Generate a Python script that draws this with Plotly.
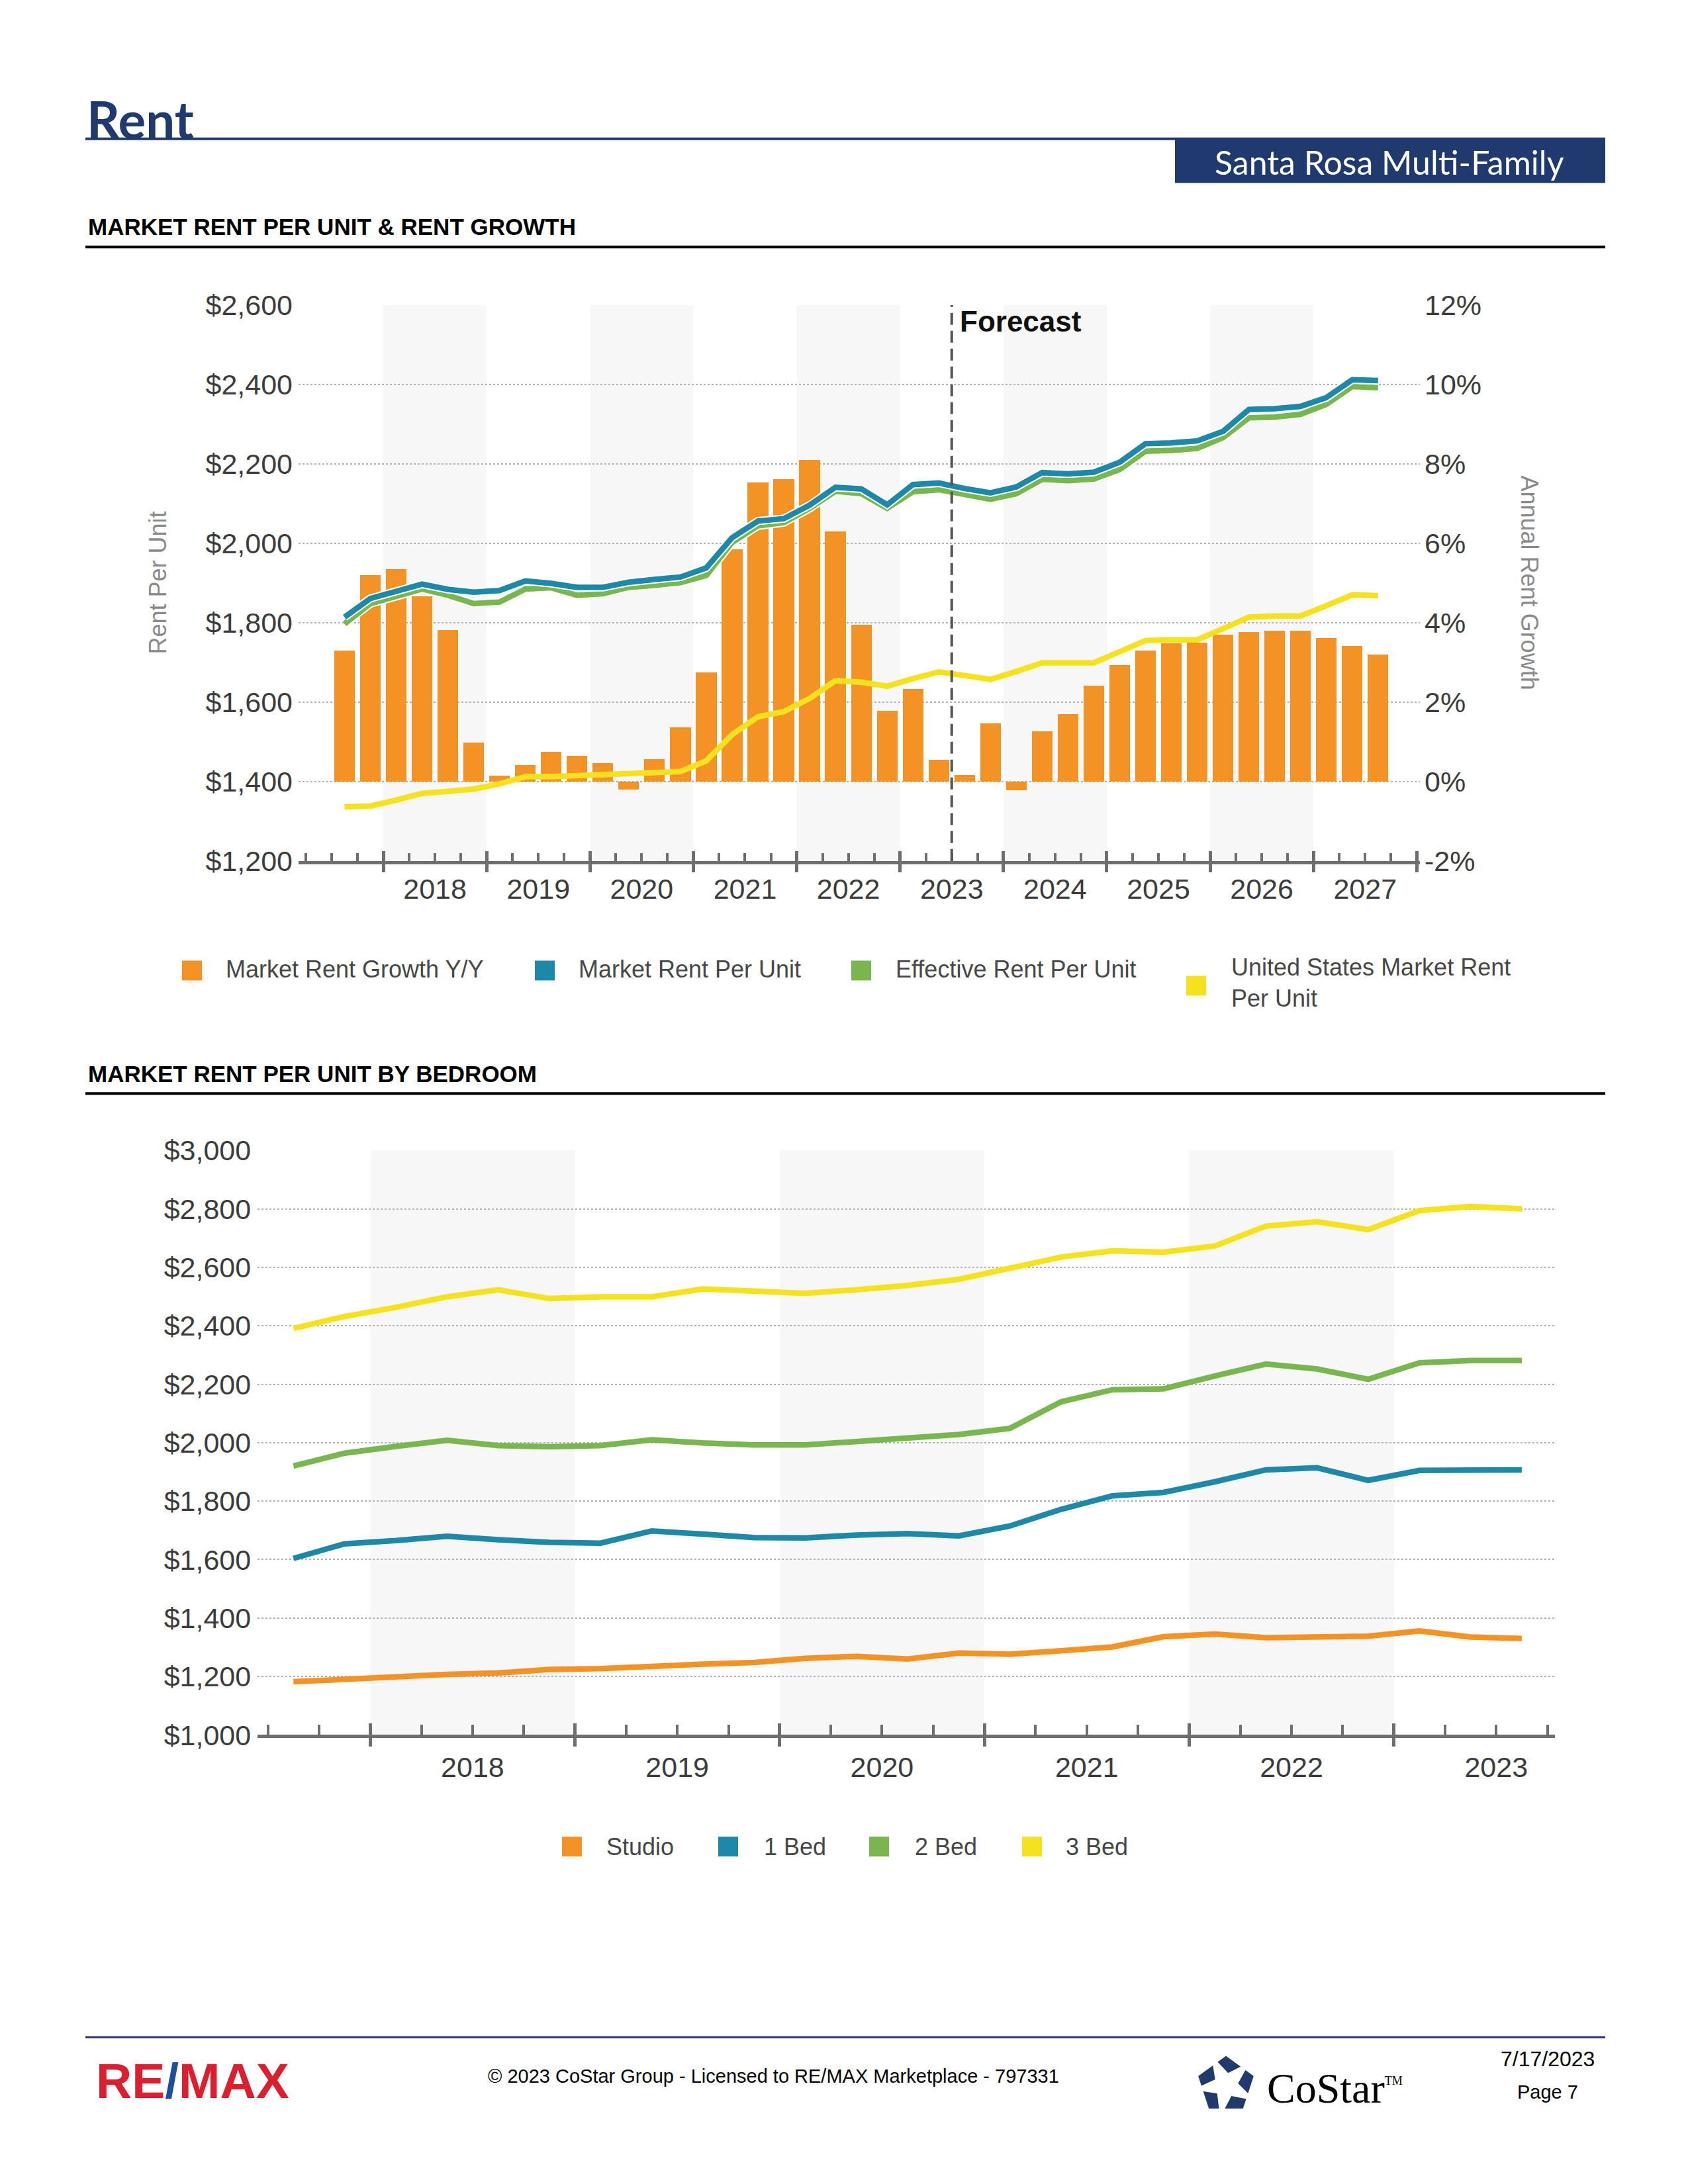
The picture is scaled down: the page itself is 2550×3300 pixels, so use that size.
import math
import plotly.graph_objects as go

W, H = 2550, 3300

# ---------------- data : market rent per unit & rent growth (quarterly) ----------------
TOP_QUARTERS = [f"{y} Q{q}" for y in range(2017, 2028) for q in (1, 2, 3, 4)][2:-1]  # 2017 Q3 .. 2027 Q3
RENT_GROWTH_PCT = [3.30, 5.20, 5.34, 4.66, 3.82, 0.98, 0.14, 0.41, 0.75, 0.65,
                   0.46, -0.21, 0.57, 1.36, 2.74, 5.84, 7.53, 7.62, 8.10, 6.30,
                   3.95, 1.78, 2.33, 0.54, 0.16, 1.46, -0.22, 1.26, 1.69, 2.41,
                   2.93, 3.29, 3.48, 3.50, 3.69, 3.76, 3.79, 3.79, 3.61, 3.41, 3.19]
MARKET_RENT = [1814, 1861, 1879, 1897, 1884, 1877, 1881, 1905, 1899, 1889,
               1889, 1902, 1909, 1915, 1938, 2014, 2056, 2062, 2096, 2141,
               2137, 2097, 2148, 2152, 2138, 2127, 2142, 2178, 2175, 2179,
               2204, 2251, 2253, 2258, 2282, 2337, 2339, 2345, 2367, 2412, 2410]
EFFECTIVE_RENT = [1797, 1848, 1866, 1885, 1869, 1848, 1852, 1885, 1888, 1869,
                  1873, 1889, 1894, 1901, 1919, 2002, 2044, 2052, 2088, 2131,
                  2125, 2088, 2130, 2135, 2123, 2111, 2125, 2161, 2158, 2162,
                  2186, 2232, 2234, 2239, 2266, 2316, 2318, 2325, 2350, 2395, 2392]
US_MARKET_RENT = [1336, 1338, 1353, 1370, 1375, 1381, 1394, 1412, 1412, 1414,
                  1419, 1419, 1421, 1425, 1452, 1518, 1563, 1576, 1609, 1654,
                  1650, 1640, 1659, 1676, 1667, 1657, 1677, 1699, 1699, 1699,
                  1727, 1755, 1757, 1757, 1785, 1814, 1817, 1817, 1843, 1870, 1868]
TOP_YEAR_LABELS = ["2018", "2019", "2020", "2021", "2022", "2023", "2024", "2025", "2026", "2027"]
TOP_SHADED_YEARS = [2018, 2020, 2022, 2024, 2026]
FORECAST_START = "2023 Q3"
RENT_TICKS = [1200, 1400, 1600, 1800, 2000, 2200, 2400, 2600]
RENT_TICK_LABELS = ["$1,200", "$1,400", "$1,600", "$1,800", "$2,000", "$2,200", "$2,400", "$2,600"]
GROWTH_TICKS = [-2, 0, 2, 4, 6, 8, 10, 12]
GROWTH_TICK_LABELS = ["-2%", "0%", "2%", "4%", "6%", "8%", "10%", "12%"]

# ---------------- data : market rent per unit by bedroom (quarterly) ----------------
BED_QUARTERS = [f"{y} Q{q}" for y in range(2017, 2024) for q in (1, 2, 3, 4)][2:-1]  # 2017 Q3 .. 2023 Q3
STUDIO = [1182, 1191, 1200, 1207, 1212, 1224, 1227, 1236, 1242, 1248, 1262, 1269, 1260,
          1280, 1276, 1288, 1301, 1336, 1345, 1333, 1336, 1338, 1356, 1335, 1330]
ONE_BED = [1604, 1654, 1665, 1680, 1668, 1659, 1656, 1698, 1687, 1675, 1674, 1684, 1689,
           1681, 1715, 1772, 1818, 1830, 1866, 1907, 1914, 1871, 1905, 1905, 1907]
TWO_BED = [1920, 1964, 1987, 2008, 1990, 1986, 1990, 2010, 1999, 1992, 1992, 2005, 2017,
           2028, 2049, 2140, 2181, 2184, 2228, 2269, 2252, 2217, 2273, 2281, 2281]
THREE_BED = [2391, 2432, 2463, 2499, 2523, 2493, 2499, 2499, 2526, 2517, 2511, 2523, 2538,
             2559, 2599, 2635, 2656, 2652, 2673, 2741, 2756, 2729, 2794, 2808, 2800]
BED_YEAR_LABELS = ["2018", "2019", "2020", "2021", "2022", "2023"]
BED_SHADED_YEARS = [2018, 2020, 2022]
BED_TICKS = [1000, 1200, 1400, 1600, 1800, 2000, 2200, 2400, 2600, 2800, 3000]
BED_TICK_LABELS = ["$1,000", "$1,200", "$1,400", "$1,600", "$1,800", "$2,000",
                   "$2,200", "$2,400", "$2,600", "$2,800", "$3,000"]

# ---------------- style ----------------
ORANGE = "#F39325"
BLUE = "#1E88A8"
GREEN = "#79B64F"
YELLOW = "#F5E11E"
NAVY = "#203A70"
AXIS_GRAY = "#6E6E6E"
GRID_GRAY = "#B0B0B0"
BAND_GRAY = "#F7F7F7"
TICK_TXT = "#3C3C3C"
TITLE_GRAY = "#8A8A8A"
LEG_TXT = "#474747"
SANS = "Arial, Liberation Sans, sans-serif"
GEO = "Lato, Open Sans, sans-serif"

# vertical calibration of the page photograph (measured from the previous render)
FIX_A, FIX_B = 1.013, -21.3


def qpos(label):
    y, q = label.split(" Q")
    return int(y) + (int(q) - 0.5) / 4


def px(x):
    return x / W


def py(y):
    return 1 - (FIX_A * y + FIX_B) / H


x_top = [qpos(q) for q in TOP_QUARTERS]
x_bed = [qpos(q) for q in BED_QUARTERS]
forecast_x = qpos(FORECAST_START) - 0.125

XR_TOP = [2017.18, 2028.03]
XR_BED = [2017.45, 2023.787]
top_minor = [y + k / 4 for y in range(2017, 2028) for k in (1, 2, 3)]
top_major = list(range(2018, 2029))
bed_minor = [y + k / 4 for y in range(2017, 2024) for k in (1, 2, 3) if XR_BED[0] < y + k / 4 < XR_BED[1]]
bed_major = list(range(2018, 2024))

TOP_DOM_X = [px(451), px(2145)]
TOP_DOM_Y = [py(1300), py(458.8)]
BED_DOM_X = [px(389.2), px(2349)]
BED_DOM_Y = [py(2623), py(1738.2)]

fig = go.Figure()

# --- top chart: bars on the percent axis (base), lines on the $ axis (overlay) ---
fig.add_trace(go.Bar(x=x_top, y=RENT_GROWTH_PCT, width=0.2, marker=dict(color=ORANGE, line=dict(width=0)),
                     xaxis="x", yaxis="y", name="Market Rent Growth Y/Y", showlegend=False, hoverinfo="skip"))
for series, color in ((EFFECTIVE_RENT, GREEN), (MARKET_RENT, BLUE)):
    fig.add_trace(go.Scatter(x=x_top, y=series, mode="lines", line=dict(color="white", width=12.5),
                             xaxis="x", yaxis="y2", showlegend=False, hoverinfo="skip"))
    fig.add_trace(go.Scatter(x=x_top, y=series, mode="lines", line=dict(color=color, width=8.5),
                             xaxis="x", yaxis="y2", showlegend=False, hoverinfo="skip"))
fig.add_trace(go.Scatter(x=x_top, y=US_MARKET_RENT, mode="lines", line=dict(color=YELLOW, width=8.5),
                         xaxis="x", yaxis="y2", showlegend=False, hoverinfo="skip"))

# --- bottom chart ---
for series, color in ((STUDIO, ORANGE), (ONE_BED, BLUE), (TWO_BED, GREEN), (THREE_BED, YELLOW)):
    fig.add_trace(go.Scatter(x=x_bed, y=series, mode="lines", line=dict(color=color, width=8.5),
                             xaxis="x2", yaxis="y3", showlegend=False, hoverinfo="skip"))

# dummy traces so that the tick-only overlay axes are drawn
for xa, ya, xr in (("x3", "y", XR_TOP), ("x4", "y", XR_TOP), ("x5", "y", XR_TOP),
                   ("x6", "y3", XR_BED), ("x7", "y3", XR_BED), ("x8", "y3", XR_BED)):
    fig.add_trace(go.Scatter(x=[xr[0]], y=[None], mode="lines", xaxis=xa, yaxis=ya,
                             showlegend=False, hoverinfo="skip"))

tick_font = dict(family=SANS, size=43, color=TICK_TXT)
tick_axis = dict(showgrid=False, zeroline=False, showline=False, showticklabels=False,
                 tickcolor=AXIS_GRAY, tickmode="array", fixedrange=True)

layout = dict(
    width=W, height=H, autosize=False,
    margin=dict(l=0, r=0, t=0, b=0, pad=0),
    paper_bgcolor="white", plot_bgcolor="rgba(0,0,0,0)",
    showlegend=False, hovermode=False, bargap=0,
    xaxis=dict(domain=TOP_DOM_X, range=XR_TOP, anchor="y", tickmode="array",
               tickvals=[int(t) + 0.5 for t in TOP_YEAR_LABELS], ticktext=TOP_YEAR_LABELS,
               ticks="", ticklabelstandoff=1, tickfont=tick_font, showgrid=False, zeroline=False,
               showline=True, linecolor=AXIS_GRAY, linewidth=5, fixedrange=True),
    yaxis=dict(domain=TOP_DOM_Y, range=[GROWTH_TICKS[0], GROWTH_TICKS[-1]], anchor="x", side="right",
               tickmode="array", tickvals=GROWTH_TICKS, ticktext=GROWTH_TICK_LABELS, ticks="",
               ticklabelstandoff=6, tickfont=tick_font, showgrid=True, gridcolor=GRID_GRAY,
               griddash="dot", gridwidth=2, zeroline=False, showline=False, fixedrange=True),
    yaxis2=dict(overlaying="y", range=[RENT_TICKS[0], RENT_TICKS[-1]], anchor="x", side="left",
                tickmode="array", tickvals=RENT_TICKS, ticktext=RENT_TICK_LABELS, ticks="",
                ticklabelstandoff=8, tickfont=tick_font, showgrid=False, zeroline=False,
                showline=False, fixedrange=True),
    xaxis3=dict(overlaying="x", anchor="y", range=XR_TOP, tickvals=top_minor, ticks="inside",
                ticklen=12, tickwidth=4, **tick_axis),
    xaxis4=dict(overlaying="x", anchor="y", range=XR_TOP, tickvals=top_major, ticks="inside",
                ticklen=15, tickwidth=5, **tick_axis),
    xaxis5=dict(overlaying="x", anchor="y", range=XR_TOP, tickvals=top_major, ticks="outside",
                ticklen=16, tickwidth=5, **tick_axis),
    xaxis2=dict(domain=BED_DOM_X, range=XR_BED, anchor="y3", tickmode="array",
                tickvals=[int(t) + 0.5 for t in BED_YEAR_LABELS], ticktext=BED_YEAR_LABELS,
                ticks="", ticklabelstandoff=7, tickfont=tick_font, showgrid=False, zeroline=False,
                showline=True, linecolor=AXIS_GRAY, linewidth=5, fixedrange=True),
    yaxis3=dict(domain=BED_DOM_Y, range=[BED_TICKS[0], BED_TICKS[-1]], anchor="x2", side="left",
                tickmode="array", tickvals=BED_TICKS, ticktext=BED_TICK_LABELS, ticks="",
                ticklabelstandoff=9, tickfont=tick_font, showgrid=True, gridcolor=GRID_GRAY,
                griddash="dot", gridwidth=2, zeroline=False, showline=False, fixedrange=True),
    xaxis6=dict(overlaying="x2", anchor="y3", range=XR_BED, tickvals=bed_minor, ticks="inside",
                ticklen=15, tickwidth=4, **tick_axis),
    xaxis7=dict(overlaying="x2", anchor="y3", range=XR_BED, tickvals=bed_major, ticks="inside",
                ticklen=17, tickwidth=5, **tick_axis),
    xaxis8=dict(overlaying="x2", anchor="y3", range=XR_BED, tickvals=bed_major, ticks="outside",
                ticklen=17, tickwidth=5, **tick_axis),
)
fig.update_layout(**layout)

shapes = []
annotations = []

# shaded alternate years
for yr in TOP_SHADED_YEARS:
    shapes.append(dict(type="rect", xref="x", yref="y domain", x0=yr, x1=yr + 1, y0=0, y1=1,
                       fillcolor=BAND_GRAY, line=dict(width=0), layer="below"))
for yr in BED_SHADED_YEARS:
    shapes.append(dict(type="rect", xref="x2", yref="y3 domain", x0=yr, x1=yr + 1, y0=0, y1=1,
                       fillcolor=BAND_GRAY, line=dict(width=0), layer="below"))

# forecast divider
shapes.append(dict(type="line", xref="x", yref="y domain", x0=forecast_x, x1=forecast_x, y0=0, y1=1,
                   line=dict(color="#555555", width=4, dash="18px,9px"), layer="above"))
annotations.append(dict(text="<b>Forecast</b>", xref="x", yref="paper", x=forecast_x, xshift=10,
                        y=py(483), xanchor="left", yanchor="middle", showarrow=False,
                        font=dict(family=SANS, size=44, color="#111111")))


def rect(x0, y0, x1, y1, color):
    shapes.append(dict(type="rect", xref="paper", yref="paper", x0=px(x0), x1=px(x1),
                       y0=py(y1), y1=py(y0), fillcolor=color, line=dict(width=0), layer="above"))


def text(t, x, y, size, color="#000000", family=SANS, xanchor="left", angle=0, weight=None):
    f = dict(family=family, size=size, color=color)
    if weight:
        f["weight"] = weight
    annotations.append(dict(text=t, xref="paper", yref="paper", x=px(x), y=py(y), xanchor=xanchor,
                            yanchor="middle", showarrow=False, textangle=angle, font=f, align="left"))


# header
text("Rent", 129, 177, 78, NAVY, family=GEO, weight=700)
rect(129, 205, 2425, 209, NAVY)
rect(1775, 206, 2425, 274, NAVY)
text("Santa Rosa Multi-Family", 2099, 242, 50, "white", family=GEO, xanchor="center")
text("<b>MARKET RENT PER UNIT &amp; RENT GROWTH</b>", 131, 340, 35)
rect(129, 369, 2425, 373, "#000000")
text("<b>MARKET RENT PER UNIT BY BEDROOM</b>", 131, 1622, 35)
rect(129, 1650, 2425, 1654, "#000000")

# axis titles
text("Rent Per Unit", 238, 879, 36, TITLE_GRAY, xanchor="center", angle=-90)
text("Annual Rent Growth", 2311, 879, 36, TITLE_GRAY, xanchor="center", angle=90)

# legend : top chart
top_legend = [("Market Rent Growth Y/Y", ORANGE, 290, 1466, 339, 1464),
              ("Market Rent Per Unit", BLUE, 823, 1466, 872, 1464),
              ("Effective Rent Per Unit", GREEN, 1301, 1466, 1351, 1464),
              ("United States Market Rent<br>Per Unit", YELLOW, 1807, 1489, 1858, 1485)]
for label, color, mx, my, tx, ty in top_legend:
    rect(mx - 15, my - 15, mx + 15, my + 15, color)
    text(label, tx, ty, 36, LEG_TXT)

# legend : bottom chart
bed_legend = [("Studio", ORANGE, 864, 914), ("1 Bed", BLUE, 1100, 1152),
              ("2 Bed", GREEN, 1328, 1380), ("3 Bed", YELLOW, 1559, 1608)]
for label, color, mx, tx in bed_legend:
    rect(mx - 15, 2777, mx + 15, 2807, color)
    text(label, tx, 2792, 36, LEG_TXT)

# footer
rect(129, 3079, 2425, 3082, "#2B2F6B")
text("<b>RE<span style='color:#1F4E9E'>/</span>MAX</b>", 143, 3146, 75, "#DC1F2E")
text("© 2023 CoStar Group - Licensed to RE/MAX Marketplace - 797331", 1168, 3139, 29, "#000000",
     xanchor="center")
text("CoStar<sup><span style='font-size:18px'>TM</span></sup>", 1912, 3158, 64, "#000000",
     family="Liberation Serif, Times New Roman, serif")
text("7/17/2023", 2338, 3113, 32, "#000000", xanchor="center")
text("Page 7", 2338, 3163, 29, "#000000", xanchor="center")

# CoStar emblem: navy pentagon with a white star cut-out
cx, cy, R = 1852, 3153, 44


def poly(points, color):
    d = "M " + " L ".join(f"{px(x):.6f},{py(y):.6f}" for x, y in points) + " Z"
    shapes.append(dict(type="path", xref="paper", yref="paper", path=d, fillcolor=color,
                       line=dict(width=0), layer="above"))


pent = [(cx + R * math.sin(math.radians(a)), cy - R * math.cos(math.radians(a))) for a in range(0, 360, 72)]
poly(pent, "#22396E")
star = []
for i in range(10):
    a = math.radians(36 + i * 36 + 10)
    r = R * 1.15 if i % 2 == 0 else R * 0.42
    star.append((cx + r * math.sin(a), cy - r * math.cos(a)))
poly(star, "white")

fig.update_layout(shapes=shapes, annotations=annotations)

# pin the figure to the page's top-left corner so the page is exactly the figure's size
PIN = ("document.documentElement.style.margin='0';document.body.style.margin='0';"
       "var gd=document.getElementById('{plot_id}');gd.style.position='absolute';"
       "gd.style.left='0px';gd.style.top='0px';")
fig.write_html("out.html", post_script=PIN, config={"displayModeBar": False})
